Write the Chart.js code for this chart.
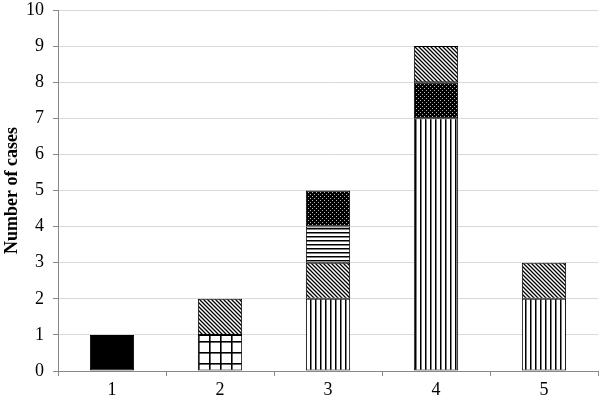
<!DOCTYPE html>
<html>
<head>
<meta charset="utf-8">
<script src="https://cdn.jsdelivr.net/npm/chart.js@4/dist/chart.umd.min.js"></script>
<style>
  html, body { margin: 0; padding: 0; background: #fff; }
  #wrap { width: 600px; height: 405px; }
</style>
</head>
<body>
<div id="wrap"><canvas id="c" width="600" height="405"></canvas></div>
<script>
const labels = ['1', '2', '3', '4', '5']
const solid = [1, null, null, null, null]
const grid = [null, 1, null, null, null]
const vertical = [null, null, 2, 7, 2]
const diagonalLow = [null, 1, 1, null, 1]
const horizontal = [null, null, 1, null, null]
const dotted = [null, null, 1, 1, null]
const diagonalTop = [null, null, null, 1, null]

const serif = "'Liberation Serif', 'Times New Roman', Times, serif"

// little tiles turned into canvas patterns
function tile(w, h, draw) {
  const c = document.createElement('canvas')
  c.width = w
  c.height = h
  const g = c.getContext('2d')
  g.fillStyle = '#fff'
  g.fillRect(0, 0, w, h)
  draw(g)
  return document.getElementById('c').getContext('2d').createPattern(c, 'repeat')
}

const patVertical = tile(5, 5, g => {
  g.fillStyle = '#000'
  g.fillRect(0, 0, 1.5, 5)
})
const patHorizontal = tile(4, 4, g => {
  g.fillStyle = '#000'
  g.fillRect(0, 0, 4, 1.5)
})
const patGrid = tile(11, 11, g => {
  g.fillStyle = '#000'
  g.fillRect(0, 0, 1.6, 11)
  g.fillRect(0, 0, 11, 1.6)
})
const patDiagonal = tile(4, 4, g => {
  g.strokeStyle = '#000'
  g.lineWidth = 1.3
  g.beginPath()
  g.moveTo(-1, -1); g.lineTo(5, 5)
  g.moveTo(-1, 3); g.lineTo(1, 5)
  g.moveTo(3, -1); g.lineTo(5, 1)
  g.stroke()
})
const patDots = tile(4, 4, g => {
  g.fillStyle = '#000'
  g.fillRect(0, 0, 4, 4)
  g.fillStyle = '#bbb'
  g.fillRect(0, 0, 1, 1)
  g.fillRect(2, 2, 1, 1)
})

function ds(label, data, fill) {
  return {
    label: label,
    data: data,
    backgroundColor: fill,
    borderColor: '#000',
    borderWidth: 1,
    borderSkipped: false,
    barPercentage: 0.41,
    categoryPercentage: 1,
  }
}

const ctx = document.getElementById('c').getContext('2d')
new Chart(ctx, {
  type: 'bar',
  data: {
    labels: labels,
    datasets: [
      ds('solid', solid, '#000'),
      ds('grid', grid, patGrid),
      ds('vertical', vertical, patVertical),
      ds('diagonal', diagonalLow, patDiagonal),
      ds('horizontal', horizontal, patHorizontal),
      ds('dotted', dotted, patDots),
      ds('diagonal top', diagonalTop, patDiagonal),
    ],
  },
  options: {
    responsive: false,
    animation: false,
    layout: { padding: { top: 10, right: 2, left: 0, bottom: 0 } },
    plugins: {
      legend: { display: false },
      tooltip: { enabled: false },
    },
    scales: {
      x: {
        stacked: true,
        grid: { drawOnChartArea: false, tickColor: '#888', tickLength: 5, offset: true },
        border: { color: '#888' },
        ticks: { color: '#000', padding: 3, font: { family: serif, size: 18 } },
        afterFit: s => { s.height = 34 },
      },
      y: {
        stacked: true,
        min: 0,
        max: 10,
        grid: { color: '#d9d9d9', tickColor: '#888', tickLength: 5 },
        border: { color: '#888' },
        ticks: { stepSize: 1, color: '#000', padding: 9, font: { family: serif, size: 18 } },
        title: {
          display: true,
          text: 'Number of cases',
          color: '#000',
          padding: { top: 2, bottom: 0 },
          font: { family: serif, size: 18, weight: 'bold' },
        },
        afterFit: s => { s.width = 58; s.paddingTop = 0; s.paddingBottom = 0 },
      },
    },
  },
})
</script>
</body>
</html>
